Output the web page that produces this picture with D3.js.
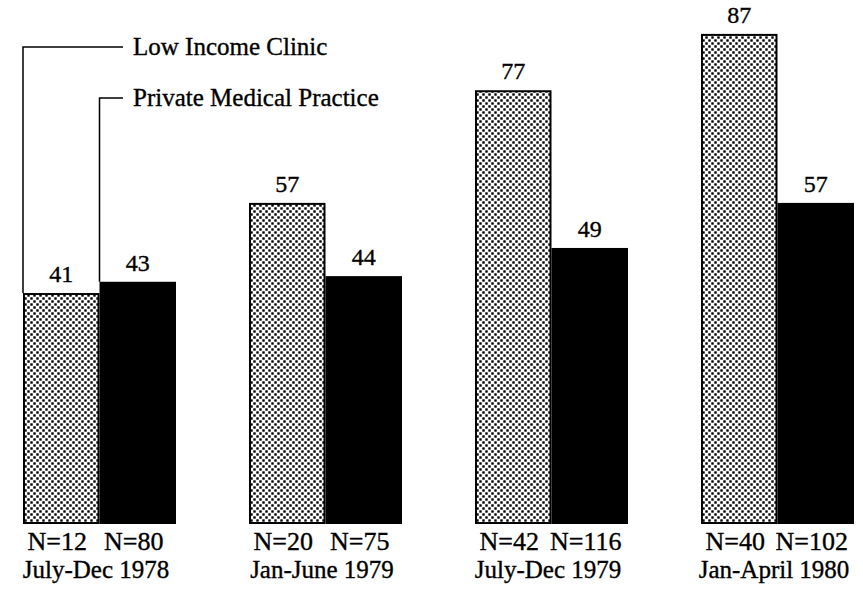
<!DOCTYPE html>
<html>
<head>
<meta charset="utf-8">
<script src="https://cdn.jsdelivr.net/npm/d3@7"></script>
<style>
  html, body { margin: 0; padding: 0; background: #fff; }
  svg { display: block; font-family: "Liberation Serif", "Times New Roman", serif; }
  text { fill: #000; stroke: #000; stroke-width: 0.35px; }
</style>
</head>
<body>
<svg id="chart" width="863" height="601"></svg>
<script>
const periods = ["July-Dec 1978", "Jan-June 1979", "July-Dec 1979", "Jan-April 1980"];
const seriesNames = ["Low Income Clinic", "Private Medical Practice"];
const lowIncome = [41, 57, 77, 87];
const privatePractice = [43, 44, 49, 57];
const nLowIncome = [12, 20, 42, 40];
const nPrivate = [80, 75, 116, 102];

const svg = d3.select("#chart");
const defs = svg.append("defs");
const pat = defs.append("pattern")
  .attr("id", "dots").attr("patternUnits", "userSpaceOnUse")
  .attr("width", 6).attr("height", 6);
pat.append("rect").attr("width", 6).attr("height", 6).attr("fill", "#fff");
pat.append("rect").attr("x", 0.3).attr("y", 0.3).attr("width", 2.4).attr("height", 2.4).attr("fill", "#000");
pat.append("rect").attr("x", 3.3).attr("y", 3.3).attr("width", 2.4).attr("height", 2.4).attr("fill", "#000");

const baseline = 524;
const y = d3.scaleLinear().domain([0, 90]).range([baseline, 17]);
const xGroup = d3.scalePoint().domain(periods).range([99, 777]);
const xSeries = d3.scaleBand().domain(seriesNames).range([-76, 77]).padding(0);

const rows = periods.map((p, i) => ({
  period: p,
  values: [
    { s: seriesNames[0], v: lowIncome[i], n: nLowIncome[i] },
    { s: seriesNames[1], v: privatePractice[i], n: nPrivate[i] }
  ]
}));

const g = svg.selectAll("g.group").data(rows).join("g")
  .attr("class", "group")
  .attr("transform", d => `translate(${xGroup(d.period)},0)`);

g.selectAll("rect.bar").data(d => d.values).join("rect")
  .attr("class", "bar")
  .attr("x", d => xSeries(d.s) + (d.s === seriesNames[0] ? 1 : 0))
  .attr("y", d => y(d.v) + (d.s === seriesNames[0] ? 1 : 0))
  .attr("width", d => xSeries.bandwidth() - (d.s === seriesNames[0] ? 2 : 0))
  .attr("height", d => baseline - y(d.v) - (d.s === seriesNames[0] ? 2 : 0))
  .attr("fill", d => d.s === seriesNames[0] ? "url(#dots)" : "#000")
  .attr("stroke", d => d.s === seriesNames[0] ? "#000" : "none")
  .attr("stroke-width", 2);

g.selectAll("text.val").data(d => d.values).join("text")
  .attr("class", "val")
  .attr("x", d => xSeries(d.s) + xSeries.bandwidth() / 2)
  .attr("y", d => y(d.v) - 11)
  .attr("text-anchor", "middle")
  .attr("font-size", 24)
  .text(d => d.v);

g.selectAll("text.n").data(d => d.values).join("text")
  .attr("class", "n")
  .attr("x", d => xSeries(d.s) + xSeries.bandwidth() / 2 - 4)
  .attr("y", 550)
  .attr("text-anchor", "middle")
  .attr("font-size", 26)
  .text(d => "N=" + d.n);

g.append("text")
  .attr("class", "period")
  .attr("x", -3)
  .attr("y", 578)
  .attr("text-anchor", "middle")
  .attr("font-size", 25)
  .text(d => d.period);

// Legend leader lines
const first = periods[0];
const legendRows = [
  { s: seriesNames[0], v: lowIncome[0], ly: 47, lx: xGroup(first) + xSeries(seriesNames[0]) },
  { s: seriesNames[1], v: privatePractice[0], ly: 98, lx: xGroup(first) + xSeries(seriesNames[1]) }
];
const lineEndX = 123;
svg.selectAll("path.leader").data(legendRows).join("path")
  .attr("class", "leader")
  .attr("d", d => `M${d.lx},${y(d.v)}V${d.ly}H${lineEndX}`)
  .attr("fill", "none").attr("stroke", "#000").attr("stroke-width", 1.5);
svg.selectAll("text.leg").data(legendRows).join("text")
  .attr("class", "leg")
  .attr("x", 133)
  .attr("y", d => d.ly + 8)
  .attr("font-size", 25)
  .text(d => d.s);
</script>
</body>
</html>
